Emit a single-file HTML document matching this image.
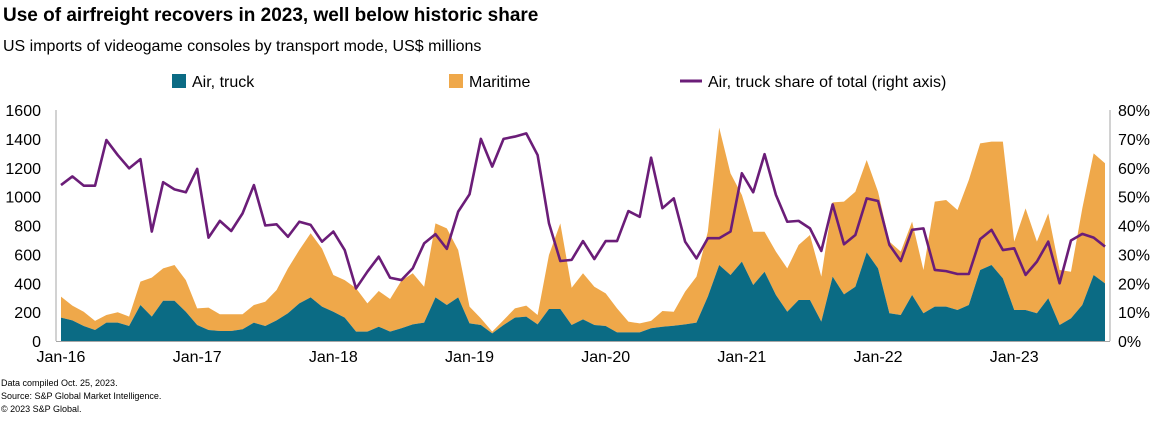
<!DOCTYPE html>
<html><head><meta charset="utf-8"><style>
body{margin:0;background:#fff;width:1162px;height:416px;overflow:hidden;font-family:"Liberation Sans",Arial,sans-serif}
</style></head><body>
<svg width="1162" height="416" viewBox="0 0 1162 416" xmlns="http://www.w3.org/2000/svg" font-family="Liberation Sans, Arial, sans-serif">
<text x="3" y="21" font-size="19" font-weight="bold" fill="#000">Use of airfreight recovers in 2023, well below historic share</text>
<text x="3" y="51" font-size="16" fill="#000">US imports of videogame consoles by transport mode, US$ millions</text>
<g font-size="16" fill="#000">
<g><rect x="172" y="74" width="14" height="14" fill="#0b6b84"/><text x="192" y="87">Air, truck</text></g>
<g><rect x="449" y="74" width="14" height="14" fill="#efa84a"/><text x="469" y="87">Maritime</text></g>
<g><line x1="680" y1="81" x2="702" y2="81" stroke="#6b1d78" stroke-width="3"/><text x="708" y="87">Air, truck share of total (right axis)</text></g>
</g>
<g id="plot"></g>
<g font-size="9" fill="#000">
<text x="1" y="386">Data compiled Oct. 25, 2023.</text>
<text x="1" y="399">Source: S&amp;P Global Market Intelligence.</text>
<text x="1" y="412">© 2023 S&amp;P Global.</text>
</g>
</svg>
<script>
const air=[162,143,104,76,127,127,104,249,169,279,279,203,111,76,69,69,81,127,104,143,192,261,302,238,
203,162,65,65,99,65,88,115,127,302,249,302,122,111,53,111,162,169,115,222,222,111,150,111,104,
60,60,60,88,99,106,115,127,307,526,457,550,388,480,319,203,284,284,134,446,323,376,614,503,192,
180,319,192,238,238,215,249,492,526,434,215,215,192,296,111,157,249,457,399];
const maritime=[145,102,99,63,53,72,65,162,270,224,247,219,115,155,116,116,104,122,168,210,311,369,444,402,
254,260,300,196,247,226,330,354,249,513,531,328,116,46,12,34,64,76,65,374,593,258,319,265,226,
166,74,62,51,109,97,227,319,450,952,704,461,369,277,300,300,381,450,312,514,642,658,640,531,496,
439,508,300,727,739,692,866,877,855,947,473,704,496,588,381,323,670,843,832];
const share=[54,57,53.8,53.8,69.6,64.4,59.8,63,37.9,55,52.5,51.5,59.6,35.8,41.6,38.1,44.2,54,40,40.4,36.1,41.3,40.2,34.4,
37.9,31.5,18.2,24,29.2,21.9,21.1,25.2,33.8,37,31.9,44.8,50.8,70,60.4,70,70.8,71.9,64.4,40.8,27.7,28.1,34.6,28.4,34.6,
34.6,45,43,63.5,46,49.4,34.4,28.6,35.6,35.6,37.9,58.1,51.5,64.7,50.6,41.3,41.6,39,31.2,47.3,33.5,36.7,49.4,48.5,33.3,
27.7,38.5,39,24.6,24.2,23.2,23.2,35.3,38.5,31.5,32.1,22.9,27.5,34.4,20,34.8,37.1,35.8,32.7];
const leftTicks=[0,200,400,600,800,1000,1200,1400,1600];
const rightTicks=[0,10,20,30,40,50,60,70,80];
const xLabels=["Jan-16","Jan-17","Jan-18","Jan-19","Jan-20","Jan-21","Jan-22","Jan-23"];

const NS="http://www.w3.org/2000/svg";
const plotG=document.getElementById('plot');
const X0=61,X1=1105,Y0=341,Y1=110;
const nPts=air.length;
const xs=i=>X0+(X1-X0)*i/(nPts-1);
const yL=v=>Y0-(Y0-Y1)*v/1600;
const yR=v=>Y0-(Y0-Y1)*v/80;
function mk(t,a){const e=document.createElementNS(NS,t);for(const k in a)e.setAttribute(k,a[k]);plotG.appendChild(e);return e;}
const totals=air.map((v,i)=>v+maritime[i]);
let dM="M"+xs(0)+","+yL(air[0]);
for(let i=0;i<nPts;i++)dM+=" L"+xs(i)+","+yL(totals[i]);
for(let i=nPts-1;i>=0;i--)dM+=" L"+xs(i)+","+yL(air[i]);
const am=mk('path',{d:dM+"Z",fill:"#efa84a"});


let dA="M"+xs(0)+","+Y0;
for(let i=0;i<nPts;i++)dA+=" L"+xs(i)+","+yL(air[i]);
dA+=" L"+xs(nPts-1)+","+Y0+"Z";
const aa=mk('path',{d:dA,fill:"#0b6b84"});


let dS="";
for(let i=0;i<nPts;i++)dS+=(i?" L":"M")+xs(i)+","+yR(share[i]);
const sl=mk('path',{d:dS,fill:"none",stroke:"#6b1d78","stroke-width":2.6,"stroke-linejoin":"round"});


const ax1=mk('line',{x1:56,y1:Y1,x2:56,y2:Y0,stroke:"#a6a6a6"});


const ax2=mk('line',{x1:1110,y1:Y1,x2:1110,y2:Y0,stroke:"#a6a6a6"});


const ax3=mk('line',{x1:56,y1:Y0+0.5,x2:1110,y2:Y0+0.5,stroke:"#a6a6a6"});


leftTicks.forEach(v=>{const t=mk('text',{x:41,y:yL(v)+6,"text-anchor":"end","font-size":16,fill:"#000"});t.textContent=v;

});
rightTicks.forEach(v=>{const t=mk('text',{x:1118,y:yR(v)+6,"font-size":16,fill:"#000"});t.textContent=v+"%";

});
xLabels.forEach((s,k)=>{const t=mk('text',{x:xs(k*12),y:362,"text-anchor":"middle","font-size":16,fill:"#000"});t.textContent=s;

});
</script>
</body></html>
